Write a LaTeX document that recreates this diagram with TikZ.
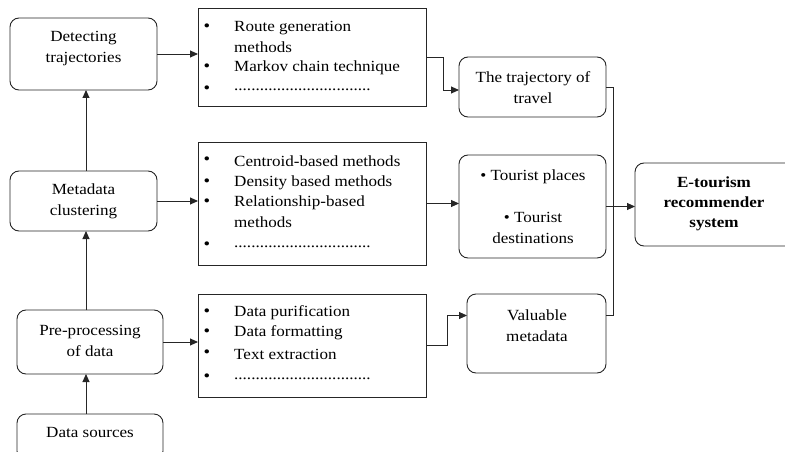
\documentclass[tikz,border=0pt]{standalone}
\usepackage{fontspec}
\setmainfont{Liberation Serif}[FakeStretch=1.1]
\usetikzlibrary{arrows.meta}
\begin{document}
\begin{tikzpicture}[x=1pt,y=-1pt,
  line/.style={draw=black!85, line width=0.9pt},
  arr/.style={line, -{Triangle[length=8pt,width=7pt]}},
  rbox/.style={line, rounded corners=9pt, anchor=north west, inner sep=0pt, outer sep=0pt},
  lbox/.style={line, anchor=north west, inner sep=0pt, outer sep=0pt},
  txt/.style={align=center, inner sep=0pt, font=\fontsize{15.5}{21}\selectfont},
  btxt/.style={txt, font=\fontsize{15.5}{20}\selectfont\bfseries},
  itm/.style={anchor=west, inner sep=0pt, font=\fontsize{15.5}{20}\selectfont},
  dts/.style={anchor=base west, inner sep=0pt, font=\fontsize{15.5}{20}\selectfont},
  bul/.style={inner sep=0pt, font=\fontsize{17}{20}\selectfont},
]
\useasboundingbox (0,0) rectangle (785,452);

% left column boxes
\node[rbox, minimum width=147, minimum height=72] (det) at (10,18) {};
\node[txt] (detT) at (83.5,49) {Detecting\\trajectories};
\node[rbox, minimum width=147, minimum height=60] (meta) at (10,171) {};
\node[txt] (metaT) at (83.5,201.5) {Metadata\\clustering};
\node[rbox, minimum width=146, minimum height=64] (pre) at (17,310) {};
\node[txt] (preT) at (90,341) {Pre-processing\\of data};
\node[rbox, minimum width=146, minimum height=46] (ds) at (17,414) {};
\node[txt] (dsT) at (90,432) {Data sources};

% list boxes
\node[lbox, minimum width=228, minimum height=98] (l1) at (198,8) {};
\node[bul] (b11) at (207,28) {•};
\node[itm] (t11) at (234,28) {Route generation};
\node[itm] (t12) at (234,47) {methods};
\node[bul] (b12) at (207,68) {•};
\node[itm] (t13) at (234,68) {Markov chain technique};
\node[bul] (b13) at (207,90) {•};
\node[dts] (t14) at (234,91) {................................};

\node[lbox, minimum width=228, minimum height=123] (l2) at (198,142) {};
\node[bul] (b21) at (207,161) {•};
\node[itm] (t21) at (234,161) {Centroid-based methods};
\node[bul] (b22) at (207,183) {•};
\node[itm] (t22) at (234,183) {Density based methods};
\node[bul] (b23) at (207,203) {•};
\node[itm] (t23) at (234,203) {Relationship-based};
\node[itm] (t24) at (234,222) {methods};
\node[bul] (b24) at (207,246) {•};
\node[dts] (t25) at (234,247) {................................};

\node[lbox, minimum width=228, minimum height=103] (l3) at (198,294) {};
\node[bul] (b31) at (207,313) {•};
\node[itm] (t31) at (234,313) {Data purification};
\node[bul] (b32) at (207,333) {•};
\node[itm] (t32) at (234,333) {Data formatting};
\node[bul] (b33) at (207,354) {•};
\node[itm] (t33) at (234,354) {Text extraction};
\node[bul] (b34) at (207,378) {•};
\node[dts] (t34) at (234,379) {................................};

% result boxes
\node[rbox, minimum width=147, minimum height=60] (traj) at (459,57) {};
\node[txt] (trajT) at (533,87.5) {The trajectory of\\travel};
\node[rbox, minimum width=147, minimum height=103] (tour) at (459,155) {};
\node[txt] (tourA) at (533,177) {• Tourist places};
\node[txt] (tourB) at (533,227.5) {• Tourist\\destinations};
\node[rbox, minimum width=139, minimum height=79] (val) at (467,294) {};
\node[txt] (valT) at (537,326) {Valuable\\metadata};
\node[rbox, minimum width=160, minimum height=83] (et) at (635,163) {};
\node[btxt] (etT) at (714,203.5) {E-tourism\\recommender\\system};

% connectors
\coordinate (vx) at (86,0);
\draw[arr] (ds.north -| vx) -- (pre.south -| vx);
\draw[arr] (pre.north -| vx) -- (meta.south -| vx);
\draw[arr] (meta.north -| vx) -- (det.south -| vx);

\draw[arr] (det.east) -- (det.east -| l1.west);
\draw[arr] (meta.east) -- (meta.east -| l2.west);
\draw[arr] (pre.east) -- (pre.east -| l3.west);

\draw[arr] (l1.west -| l1.east) -- ++(17,0) |- ([yshift=-3pt]traj.west);
\draw[arr] (l2.east) -- (l2.east -| tour.west);
\draw[arr] (l3.east) -- ++(21,0) |- ([yshift=18pt]val.west);

\draw[line] (traj.east) -- ++(7,0) |- ([yshift=18pt]val.east);
\draw[arr] (tour.east) -- (tour.east -| et.west);
\end{tikzpicture}
\end{document}
